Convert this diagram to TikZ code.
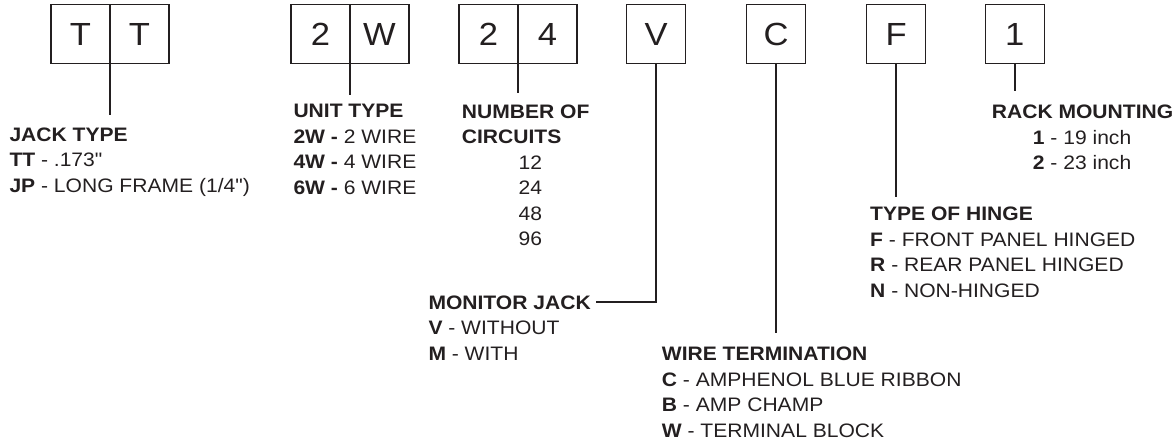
\documentclass[tikz,border=0pt]{standalone}
\usepackage{fontspec}
\setmainfont[FakeStretch=1.08,Ligatures=TeXOff]{Liberation Sans}
\usetikzlibrary{calc}
\definecolor{ink}{RGB}{35,31,32}
\begin{document}
\begin{tikzpicture}[x=1pt,y=-1pt,
  cell/.style={draw=ink,line width=1.3pt,minimum width=59pt,minimum height=59pt,inner sep=0pt,outer sep=0pt,font=\fontsize{32}{38}\selectfont,text=ink},
  lead/.style={draw=ink,line width=2.2pt},
  lbl/.style={anchor=north west,inner sep=0pt,align=left,text=ink,font=\fontsize{19.5}{25.5}\selectfont},
]
\useasboundingbox (0,0) rectangle (1176,443);
% code boxes
\node[cell] (tt1) at (80.5,34) {T};
\node[cell] (tt2) at (139.5,34) {T};
\node[cell] (uw1) at (320.5,34) {2};
\node[cell] (uw2) at (379.5,34) {W};
\node[cell] (nc1) at (488.5,34) {2};
\node[cell] (nc2) at (547.5,34) {4};
\node[cell] (mj) at (656.2,34) {V};
\node[cell] (wt) at (776.2,34) {C};
\node[cell] (hg) at (896.2,34) {F};
\node[cell] (rm) at (1014.7,34) {1};
% labels
\node[lbl] (jackL) at (9.3,127.3) {\textbf{JACK TYPE}\\\textbf{TT} - .173"\\\textbf{JP} - LONG FRAME (1/4")};
\node[lbl] (unitL) at (293.3,104.3) {\textbf{UNIT TYPE}\\\textbf{2W -} 2 WIRE\\\textbf{4W -} 4 WIRE\\\textbf{6W -} 6 WIRE};
\node[lbl] (numL) at (461.7,104.3) {\textbf{NUMBER OF}\\\textbf{CIRCUITS}};
\node[lbl] (numV) at (518.5,155.3) {12\\24\\48\\96};
\node[lbl] (monL) at (428.3,295.2) {\textbf{MONITOR JACK}\\\textbf{V} - WITHOUT\\\textbf{M} - WITH};
\node[lbl] (wireL) at (661.7,346.7) {\textbf{WIRE TERMINATION}\\\textbf{C} - AMPHENOL BLUE RIBBON\\\textbf{B} - AMP CHAMP\\\textbf{W} - TERMINAL BLOCK};
\node[lbl] (hingeL) at (870,206.7) {\textbf{TYPE OF HINGE}\\\textbf{F} - FRONT PANEL HINGED\\\textbf{R} - REAR PANEL HINGED\\\textbf{N} - NON-HINGED};
\node[lbl] (rackL) at (991.7,104.3) {\textbf{RACK MOUNTING}};
\node[lbl] (rackV) at (1032.7,129.8) {\textbf{1} - 19 inch\\\textbf{2} - 23 inch};
% connector ends
\coordinate (jackEnd) at (110,115);
\coordinate (unitEnd) at (350,95);
\coordinate (numEnd) at (518,93);
\coordinate (monEnd) at (596,302.3);
\coordinate (wireEnd) at (776.2,333);
\coordinate (hingeEnd) at (896.2,197);
\coordinate (rackEnd) at (1014.7,91);
% connectors
\draw[lead] (tt1.south east) -- (tt1.south east |- jackEnd);
\draw[lead] (uw1.south east) -- (uw1.south east |- unitEnd);
\draw[lead] (nc1.south east) -- (nc1.south east |- numEnd);
\draw[lead] (mj.south) |- (monEnd);
\draw[lead] (wt.south) -- (wt.south |- wireEnd);
\draw[lead] (hg.south) -- (hg.south |- hingeEnd);
\draw[lead] (rm.south) -- (rm.south |- rackEnd);
\end{tikzpicture}
\end{document}
